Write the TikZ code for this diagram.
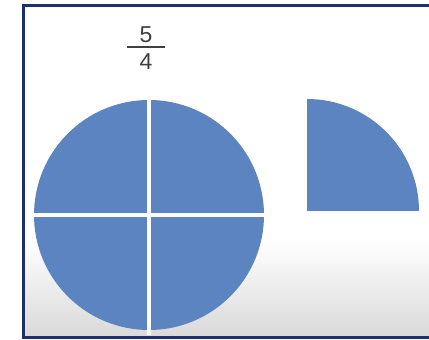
\documentclass[tikz,border=0pt]{standalone}
\usepackage{fontspec}
\setmainfont{Liberation Sans}
\usepackage{xcolor}
\usepackage{tikz}
\usetikzlibrary{positioning}
\definecolor{pieblue}{RGB}{91,132,192}
\definecolor{framenavy}{RGB}{28,48,108}

\begin{document}
\begin{tikzpicture}[x=1pt,y=1pt,
  digit/.style={text=black!75,inner sep=0pt,font=\fontsize{23}{23}\selectfont},
  gap/.style={white,line width=4pt}]
  \useasboundingbox (0,0) rectangle (429,340);
  \clip (0,0) rectangle (429,340);
  \fill[white] (0,0) rectangle (429,340);
  \shade[top color=white,bottom color=black!15] (22,2) rectangle (432,100);
  \draw[framenavy,line width=3pt] (23,2) rectangle (440,334);
  \node[digit] (num) at (146,305) {5};
  \node[digit] (den) at (146,278) {4};
  \draw[black!75,line width=1.2pt] (127,293) -- (165,293);
  \fill[pieblue] (149,125) circle (115);
  \draw[gap] (149,5) -- (149,245);
  \draw[gap] (29,125) -- (269,125);
  \fill[pieblue] (307,129) -- (307,241) arc (90:0:112) -- cycle;
\end{tikzpicture}
\end{document}
